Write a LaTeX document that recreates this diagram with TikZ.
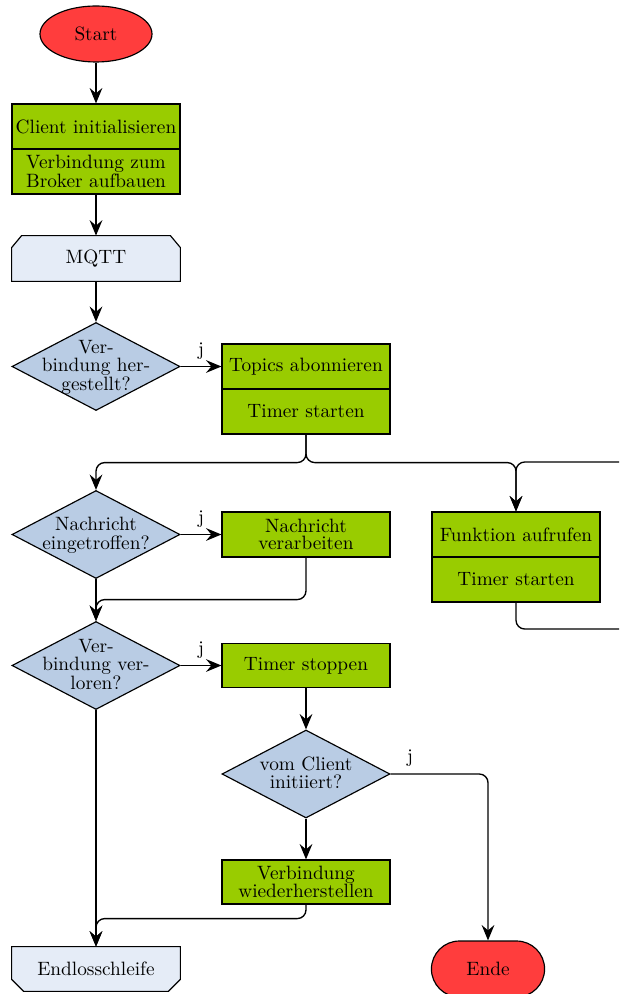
\documentclass[tikz,border=0pt]{standalone}
\usetikzlibrary{shapes.geometric,shapes.misc,arrows.meta,calc,backgrounds}

\definecolor{termred}{RGB}{255,61,61}
\definecolor{procgreen}{RGB}{153,204,0}
\definecolor{decblue}{RGB}{185,204,228}
\definecolor{loopblue}{RGB}{229,236,247}

% one drawing unit
\newcommand{\pxu}{0.518pt}
% centred multi-line text that does not enlarge the diamond
\newcommand{\dtext}[1]{\smash{\raisebox{-3.2pt}{\makebox[0pt]{\begin{tabular}{@{}c@{}}#1\end{tabular}}}}}

\tikzset{
  every node/.style={font=\fontsize{10pt}{9pt}\selectfont},
  conn/.style={line width=0.7pt, rounded corners=4.5pt,
    -{Stealth[length=8pt,width=6.6pt,inset=2.8pt]}},
  procbox/.style={draw, line width=0.6pt, fill=procgreen, align=center,
    inner sep=0pt, minimum width=168*\pxu, minimum height=45*\pxu},
  decision/.style={diamond, draw, line width=0.6pt, fill=decblue,
    inner sep=0pt, minimum width=168*\pxu, minimum height=88*\pxu},
  terminal/.style={ellipse, draw, line width=0.6pt, fill=termred,
    minimum width=112*\pxu, minimum height=56*\pxu},
  terminalend/.style={rounded rectangle, draw, line width=0.6pt, fill=termred,
    minimum width=126*\pxu, minimum height=56*\pxu},
  looplimit/.style={inner sep=0pt, minimum width=168*\pxu, minimum height=45*\pxu},
  loopframe/.style={draw, line width=0.6pt, fill=loopblue},
  yes/.style={above, pos=0.5},
}

\begin{document}
\begin{tikzpicture}[x=\pxu, y=-\pxu]
  \useasboundingbox (0,0) rectangle (619,994);
  \clip (0,0) rectangle (619,994);

  % start and initialisation
  \node[terminal] (start) at (96,34) {Start};
  \node[procbox] (init) at (96,126.5) {Client initialisieren};
  \node[procbox] (conn) at (96,171.5) {Verbindung zum\\Broker aufbauen};
  \node[looplimit] (mqtt) at (96,258.5) {MQTT};

  % connection check
  \node[decision] (dconn) at (96,366.5) {\dtext{Ver-\\bindung her-\\gestellt?}};
  \node[procbox] (topics) at (306,366.5) {Topics abonnieren};
  \node[procbox] (tstart) at (306,411.5) {Timer starten};

  % message handling
  \node[decision] (dmsg) at (96,534.5) {\dtext{Nachricht\\eingetroffen?}};
  \node[procbox] (handle) at (306,534.5) {Nachricht\\verarbeiten};

  % timer callback
  \node[procbox] (call) at (516,534.5) {Funktion aufrufen};
  \node[procbox] (tagain) at (516,579.5) {Timer starten};

  % connection lost
  \node[decision] (dlost) at (96,665.5) {\dtext{Ver-\\bindung ver-\\loren?}};
  \node[procbox, minimum height=44*\pxu] (tstop) at (306,665.5) {Timer stoppen};
  \node[decision] (dclient) at (306,774) {\dtext{vom Client\\initiiert?}};
  \node[procbox, minimum height=44*\pxu] (recon) at (306,882) {Verbindung\\wiederherstellen};

  % end
  \node[looplimit, minimum height=44*\pxu] (loop) at (96,969) {Endlosschleife};
  \node[terminalend] (ende) at (488,969) {Ende};

  % loop limit frames
  \begin{pgfonlayer}{background}
    \draw[loopframe] (mqtt.south west) -- ($(mqtt.north west)+(0,12)$)
      -- ($(mqtt.north west)+(10,0)$) -- ($(mqtt.north east)+(-10,0)$)
      -- ($(mqtt.north east)+(0,12)$) -- (mqtt.south east) -- cycle;
    \draw[loopframe] (loop.north west) -- ($(loop.south west)+(0,-12)$)
      -- ($(loop.south west)+(12,0)$) -- ($(loop.south east)+(-12,0)$)
      -- ($(loop.south east)+(0,-12)$) -- (loop.north east) -- cycle;
  \end{pgfonlayer}

  % free ends of the timer loop
  \coordinate (loopbot) at (650,629);
  \coordinate (looptop) at (650,462);

  % connectors
  \draw[conn] (start) -- (init);
  \draw[conn] (conn) -- (mqtt);
  \draw[conn] (mqtt) -- (dconn);
  \draw[conn] (dconn.east) -- node[yes] {j} (topics.west);
  \draw[conn] (tstart.south) -- ++(0,28) -| (dmsg.north);
  \draw[conn] (tstart.south) -- ++(0,28) -| (call.north);
  \draw[conn] (tagain.south) |- (loopbot) -- (looptop) -| (call.north);
  \draw[conn] (dmsg.east) -- node[yes] {j} (handle.west);
  \draw[conn] (dmsg.south) -- (dlost.north);
  \draw[conn] (handle.south) -- ++(0,42) -| (dlost.north);
  \draw[conn] (dlost.east) -- node[yes] {j} (tstop.west);
  \draw[conn] (tstop) -- (dclient);
  \draw[conn] (dclient.east) -| node[above, pos=0.1] {j} (ende.north);
  \draw[conn] (dclient) -- (recon);
  \draw[conn] (recon.south) -- ++(0,14) -| (loop.north);
  \draw[conn] (dlost.south) -- (loop.north);
\end{tikzpicture}
\end{document}
